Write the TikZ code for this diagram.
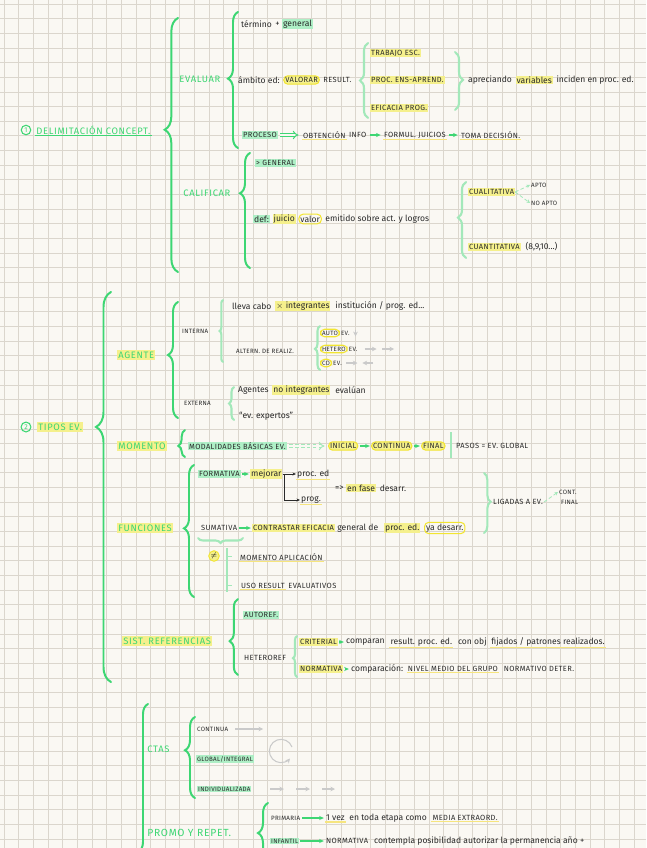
\documentclass[tikz,border=0pt]{standalone}
\usepackage{fontspec}
\setmainfont{Fira Sans}
\newfontfamily\capsfnt[LetterSpace=5]{Fira Sans}
\newfontfamily\headfnt[LetterSpace=7]{Fira Sans}
\usetikzlibrary{decorations.pathreplacing, arrows.meta, positioning}
\definecolor{paper}{HTML}{FAF8F3}
\definecolor{gridc}{HTML}{DBD6CD}
\definecolor{grn}{HTML}{3DD673}
\definecolor{lgrn}{HTML}{A3E8BA}
\definecolor{hlY}{HTML}{F5F08C}
\definecolor{hlG}{HTML}{AEEFC6}
\definecolor{cirY}{HTML}{F2E530}
\definecolor{ink}{HTML}{2A2A2A}
\definecolor{gry}{HTML}{CACACA}
\tikzset{
  tx/.style={font=\fontsize{7.3}{7.5}\selectfont, text=ink, inner sep=0.8pt, anchor=west},
  cp/.style={font=\capsfnt\fontsize{6.4}{6.5}\selectfont, text=ink, inner sep=0.8pt, anchor=west},
  sml/.style={font=\capsfnt\fontsize{5.3}{5.5}\selectfont},
  hd/.style={font=\headfnt\fontsize{8}{8.5}\selectfont, text=grn, inner sep=1pt, anchor=west},
  hly/.style={fill=hlY},
  hlg/.style={fill=hlG},
  ell/.style={draw=cirY, line width=0.9pt, rounded corners=3.5pt, inner sep=1.3pt},
  ul/.style={draw=hlY!90!orange, line width=1.1pt},
  brc/.style 2 args={decorate, decoration={brace, amplitude=#1, aspect=#2}, draw=grn, line width=1.7pt, line cap=round},
  lbrc/.style 2 args={decorate, decoration={brace, amplitude=#1, aspect=#2}, draw=lgrn, line width=1.8pt, line cap=round},
  arr/.style={-{Stealth[length=4pt, width=3.5pt]}, draw=grn, line width=0.9pt, shorten <=2pt, shorten >=2pt},
  larr/.style={-{Stealth[length=3pt, width=3pt]}, draw=lgrn, line width=0.7pt, densely dashed},
  karr/.style={-{Stealth[length=3pt, width=2.5pt]}, draw=ink, line width=0.45pt},
  garr/.style={-{Stealth[length=4pt, width=4pt]}, draw=gry, line width=0.9pt},
  dbl/.style={double=paper, double distance=1.6pt, draw=grn, line width=0.8pt, -{Implies}, shorten <=2pt, shorten >=3pt},
  num/.style={circle, draw=grn, text=grn, line width=0.9pt, inner sep=1.2pt, font=\fontsize{6}{6}\selectfont}
}
\begin{document}
\begin{tikzpicture}[x=0.03cm, y=-0.03cm]
  \useasboundingbox (0,0) rectangle (646,848);
  \clip (0,0) rectangle (646,848);
  \fill[paper] (0,0) rectangle (646,848);
  \foreach \i in {0,...,44} \draw[gridc, line width=0.6pt] ({4+\i*14.65},0) -- ++(0,848);
  \foreach \j in {0,...,58} \draw[gridc, line width=0.6pt] (0,{4+\j*14.65}) -- ++(646,0);

  % (1) delimitacion
  \node[num] (c1) at (26,130) {1};
  \node[hd] (del) at (35,130) {DELIMITACIÓN CONCEPT.};
  \draw[grn, line width=1pt] (del.south west) -- (del.south east);
  \draw[brc={4mm}{0.56}] (178,272) -- (178,18);
  % evaluar
  \node[hd] (eva) at (178,79) {EVALUAR};
  \draw[brc={3mm}{0.51}] (238,148) -- (238,12);
  \node[tx] (ter) at (240,24) {término};
  \node[tx, right=1pt of ter] (pls) {+};
  \node[tx, hlg, right=1pt of pls] (gen) {general};
  \node[tx] (amb) at (237,80) {ámbito ed:};
  \node[cp, ell, hly, right=2pt of amb] (val) {VALORAR};
  \node[cp, right=2pt of val] (res) {RESULT.};
  \draw[lbrc={2.4mm}{0.5}] (368,118) -- (368,43);
  \node[cp, hly] (tra) at (370,53) {TRABAJO ESC.};
  \node[cp, hly] (pea) at (370,80) {PROC. ENS-APREND.};
  \node[cp, hly] (efi) at (370,108) {EFICACIA PROG.};
  \draw[lbrc={2.4mm}{0.48}] (455,52) -- (455,110);
  \node[tx] (apr) at (467,80) {apreciando};
  \node[tx, hly, right=2pt of apr] (var) {variables};
  \node[tx, right=2pt of var] (inc) {inciden en proc. ed.};
  %
  \node[cp, hlg] (pro) at (242,135) {PROCESO};
  \node[cp] (obt) at (302,135) {OBTENCIÓN};
  \node[cp, right=1pt of obt] (info) {INFO};
  \node[cp] (fj) at (383,135) {FORMUL. JUICIOS};
  \node[cp] (td) at (460,135) {TOMA DECISIÓN.};
  \draw[dbl] (pro) -- (obt);
  \draw[arr] (info) -- (fj);
  \draw[arr] (fj) -- (td);
  \foreach \n in {obt, fj, td} \draw[ul] (\n.south west) -- (\n.south east);
  % calificar
  \node[hd] (cal) at (182,193) {CALIFICAR};
  \draw[brc={3mm}{0.65}] (250,268) -- (250,153);
  \node[cp, hlg] (gen2) at (255,163) {> GENERAL};
  \node[tx, hlg] (def) at (253,219) {def:};
  \node[tx, hly, right=2pt of def] (jui) {juicio};
  \node[tx, ell, right=2pt of jui] (vlr) {valor};
  \node[tx, right=2pt of vlr] (emi) {emitido sobre act. y logros};
  \draw[lbrc={2.4mm}{0.53}] (466,258) -- (466,182);
  \node[cp, hly] (cua) at (468,192) {CUALITATIVA};
  \node[cp, sml] (apt) at (530,185) {APTO};
  \node[cp, sml] (nap) at (530,203) {NO APTO};
  \draw[larr] (cua.east) -- (apt.west);
  \draw[larr] (cua.east) -- (nap.west);
  \node[cp, hly] (cun) at (468,247) {CUANTITATIVA};
  \node[tx, right=3pt of cun] (esc) {(8,9,10...)};

  % (2) tipos
  \node[num] (c2) at (26,427) {2};
  \node[hd, hly] (tip) at (37,427) {TIPOS EV.};
  \draw[brc={4.5mm}{0.654}] (111,682) -- (111,292);
  % agente
  \node[hd, hly] (age) at (117,355) {AGENTE};
  \draw[brc={3mm}{0.543}] (178,418) -- (178,302);
  \node[cp, sml] (int) at (181,331) {INTERNA};
  \draw[lbrc={1mm}{0.5}] (223,362) -- (223,300);
  \node[tx] (lle) at (231,306) {lleva cabo};
  \node[tx, hly, right=2pt of lle] (xin) {$\times$ integrantes};
  \node[tx, right=3pt of xin] (ins) {institución / prog. ed...};
  \node[cp, sml] (alt) at (235,351) {ALTERN. DE REALIZ.};
  \draw[lbrc={1.5mm}{0.48}] (320,370) -- (320,326);
  \node[cp, sml, ell] (au1) at (320,333) {AUTO};
  \node[cp, sml, right=0pt of au1] (au2) {EV.};
  \node[cp, sml, ell] (he1) at (320,349) {HETERO};
  \node[cp, sml, right=0pt of he1] (he2) {EV.};
  \node[cp, sml, ell] (co1) at (320,363) {CO};
  \node[cp, sml, right=0pt of co1] (co2) {EV.};
  \draw[garr] ([xshift=4pt]au2.north east) -- ([xshift=4pt]au2.south east);
  \draw[garr] ([xshift=5pt]he2.east) -- ++(12,0);
  \draw[garr] ([xshift=20pt]he2.east) -- ++(12,0);
  \draw[garr] ([xshift=3pt]co2.east) -- ++(11,0);
  \draw[garr] ([xshift=26pt]co2.east) -- ++(-11,0);
  \node[cp, sml] (ext) at (183,403) {EXTERNA};
  \draw[lbrc={1.5mm}{0.5}] (234,420) -- (234,387);
  \node[tx] (agt) at (237,390) {Agentes};
  \node[tx, hly, right=2pt of agt] (noi) {no integrantes};
  \node[tx, right=3pt of noi] (evl) {evalúan};
  \node[tx] (exp) at (238,416) {“ev. expertos”};
  % momento
  \node[hd, hly] (mom) at (117,446) {MOMENTO};
  \draw[brc={2mm}{0.41}] (185,457) -- (185,430);
  \node[cp, hlg] (mod) at (188,446) {MODALIDADES BÁSICAS EV.};
  \node[cp, ell, hly] (ini) at (328,446) {INICIAL};
  \node[cp, ell, hly] (ctn) at (371,446) {CONTINUA};
  \node[cp, ell, hly] (fnl) at (421,446) {FINAL};
  \draw[dbl, draw=lgrn, densely dashed] (mod) -- (ini);
  \draw[arr, shorten <=1pt, shorten >=1pt] (ini) -- (ctn);
  \draw[arr, shorten <=1pt, shorten >=1pt] (ctn) -- (fnl);
  \draw[lgrn, line width=1.5pt] (451,432) -- (451,458);
  \node[cp] (pas) at (455,446) {PASOS = EV. GLOBAL};
  % funciones
  \node[hd, hly] (fun) at (117,528) {FUNCIONES};
  \draw[brc={3mm}{0.52}] (194,597) -- (194,465);
  \node[cp, hlg] (fmt) at (198,474) {FORMATIVA};
  \node[tx, hly] (mej) at (250,474) {mejorar};
  \draw[arr, shorten <=1pt, shorten >=1pt] (fmt) -- (mej);
  \node[tx] (pce) at (296,474) {proc. ed};
  \node[tx] (prg) at (300,500) {prog.};
  \draw[karr] (mej.east) -- (pce.west);
  \draw[karr] ([xshift=1pt]mej.east) |- (prg.west);
  \foreach \n in {pce, prg} \draw[ul] (\n.south west) -- (\n.south east);
  \node[tx] (imp) at (334,488) {=>};
  \node[tx, hly, right=1pt of imp] (efa) {en fase};
  \node[tx, right=2pt of efa] (des) {desarr.};
  \draw[lbrc={2mm}{0.48}] (484,473) -- (484,533);
  \node[cp] (lig) at (492,502) {LIGADAS A EV.};
  \node[cp, sml] (cnt) at (558,492) {CONT.};
  \node[cp, sml] (fnl2) at (560,502) {FINAL};
  \draw[larr] (lig.east) -- (cnt.west);
  \node[cp] (sum) at (200,528) {SUMATIVA};
  \draw[lbrc={1.5mm}{0.5}] (243,538) -- (198,538);
  \node[cp, hly] (cef) at (252,528) {CONTRASTAR EFICACIA};
  \draw[arr, shorten <=1pt, shorten >=1pt] (sum) -- (cef);
  \node[tx, right=1pt of cef] (gdp) {general de};
  \node[tx, hly, right=4pt of gdp] (ped) {proc. ed.};
  \node[tx, ell, right=3pt of ped] (yad) {ya desarr.};
  \node[circle, fill=hlY, draw=cirY, line width=0.8pt, inner sep=0pt, minimum size=9pt, font=\fontsize{6}{6}\selectfont] (neq) at (214,556) {$\neq$};
  \draw[lgrn, line width=1pt] (227,548) -- (227,592);
  \draw[lgrn, line width=0.8pt] (228,556) -- (232,556) (228,585) -- (232,585);
  \node[cp] (map) at (239,557) {MOMENTO APLICACIÓN};
  \node[cp] (uso) at (240,586) {USO RESULT};
  \node[cp, right=1pt of uso] (evt) {EVALUATIVOS};
  \foreach \n in {map, uso} \draw[ul] (\n.south west) -- (\n.south east);
  % sist. referencias
  \node[hd, hly] (sis) at (122,641) {SIST. REFERENCIAS};
  \draw[brc={2.5mm}{0.447}] (238,675) -- (238,599);
  \node[cp, hlg] (aur) at (243,615) {AUTOREF.};
  \node[cp] (hrf) at (243,658) {HETEROREF};
  \draw[lbrc={1.2mm}{0.46}] (297,677) -- (297,636);
  \node[cp, hly] (cri) at (299,642) {CRITERIAL};
  \node[tx] (cmp) at (345,642) {comparan};
  \draw[arr, shorten <=1pt, shorten >=1pt] (cri) -- (cmp);
  \node[tx, right=3pt of cmp] (rpe) {result. proc. ed.};
  \node[tx, right=3pt of rpe] (cob) {con obj};
  \node[tx, right=2pt of cob] (fij) {fijados / patrones realizados.};
  \node[cp, hly] (nrm) at (299,669) {NORMATIVA};
  \node[tx] (cpc) at (350,669) {comparación:};
  \draw[arr, shorten <=1pt, shorten >=1pt] (nrm) -- (cpc);
  \node[cp, right=2pt of cpc] (nmg) {NIVEL MEDIO DEL GRUPO};
  \node[cp, right=3pt of nmg] (ndt) {NORMATIVO DETER.};
  \foreach \n in {rpe, fij, nmg} \draw[ul] (\n.south west) -- (\n.south east);

  % (3) ctas, promo
  \draw[brc={3mm}{0.5}] (148,1000) -- (148,704);
  \node[hd] (cta) at (146,749) {CTAS};
  \draw[brc={3mm}{0.59}] (195,798) -- (195,717);
  \node[cp, sml] (cnu) at (196,729) {CONTINUA};
  \draw[garr] ([xshift=5pt]cnu.east) -- ++(28,0);
  \node[cp, sml, hlg] (glo) at (196,759) {GLOBAL/INTEGRAL};
  \draw[garr] (292,747) arc[start angle=20, end angle=320, radius=0.35cm];
  \node[cp, sml, hlg] (idv) at (197,789) {INDIVIDUALIZADA};
  \draw[garr] (270,789) -- ++(14,0);
  \draw[garr] (296,789) -- ++(14,0);
  \draw[garr] (322,789) -- ++(13,0);
  \node[hd, font=\headfnt\fontsize{8.8}{9}\selectfont] (prm) at (146,833) {PROMO Y REPET.};
  \draw[brc={3mm}{0.61}] (268,880) -- (268,803);
  \node[cp, sml] (pri) at (270,818) {PRIMARIA};
  \node[tx] (vez) at (325,818) {1 vez};
  \draw[arr, shorten <=1pt, shorten >=1pt] (pri) -- (vez);
  \node[tx, right=2pt of vez] (eta) {en toda etapa como};
  \node[cp, right=3pt of eta] (mex) {MEDIA EXTRAORD.};
  \foreach \n in {vez, mex} \draw[ul] (\n.south west) -- (\n.south east);
  \node[cp, sml, hlg] (inf2) at (270,841) {INFANTIL};
  \node[cp] (nor2) at (325,841) {NORMATIVA};
  \node[tx, right=3pt of nor2] (ctp) {contempla posibilidad autorizar la permanencia año +};
  \draw[arr, shorten <=1pt, shorten >=1pt] (inf2) -- (nor2);
\end{tikzpicture}
\end{document}
